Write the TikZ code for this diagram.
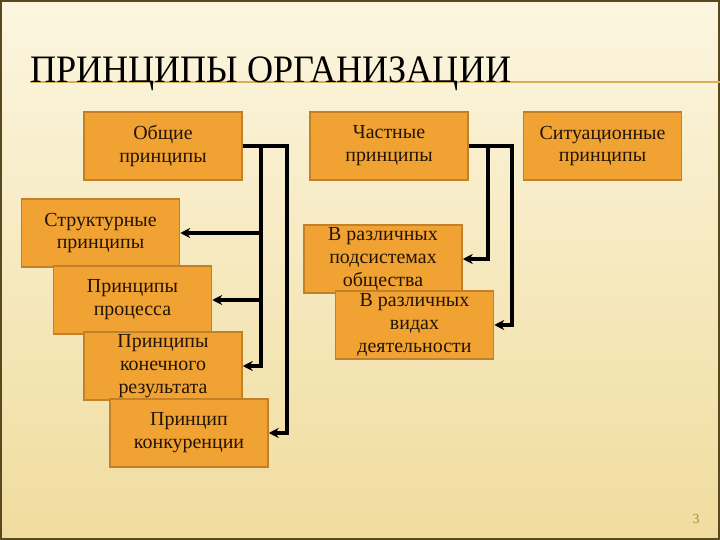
\documentclass[tikz,border=0pt]{standalone}
\usepackage{fontspec}
\setmainfont{Liberation Serif}
\usetikzlibrary{arrows.meta}

\definecolor{paperlight}{RGB}{252,246,224}
\definecolor{paperdark}{RGB}{240,220,158}
\definecolor{boxfill}{RGB}{240,162,50}
\definecolor{boxline}{RGB}{196,128,40}
\definecolor{boxtext}{RGB}{35,20,5}
\definecolor{goldline}{RGB}{214,176,88}
\definecolor{framecol}{RGB}{90,72,30}
\definecolor{numcol}{RGB}{176,136,48}

\tikzset{
  pbox/.style={rectangle, draw=boxline, line width=1.5bp, fill=boxfill,
    minimum width=158bp, minimum height=68bp, inner sep=0pt, align=center,
    text=boxtext, font=\fontsize{20}{23}\selectfont},
  link/.style={line width=3.3bp, -{Stealth[length=10bp,width=10bp]}}
}

\begin{document}
\begin{tikzpicture}[x=1bp,y=-1bp]
			% Background and frame
			\shade[top color=paperlight, bottom color=paperdark] (0,0) rectangle (720,540);
			\draw[line width=1.5bp, framecol] (1,1) rectangle (719,539);
			\useasboundingbox (0,0) rectangle (720,540);
			
			% Title
			\draw[goldline, line width=1.5bp] (30,82) -- (720,82);
			\node[anchor=base west, inner sep=0pt, font=\fontsize{39}{39}\selectfont] (title) at (30,83) {\scalebox{0.93}[1]{ПРИНЦИПЫ ОРГАНИЗАЦИИ}};
			
			% Top row
			\node[pbox] (obsh) at (163,146) {Общие\\принципы};
			\node[pbox] (chast) at (389,146) {Частные\\принципы};
			\node[pbox] (sit) at (602.5,146) {Ситуационные\\принципы};
			
			% Left column
			\node[pbox] (struct) at (100.5,233) {Структурные\\принципы};
			\node[pbox] (proc) at (132.5,300) {Принципы\\процесса};
			\node[pbox] (konech) at (163,366) {Принципы\\конечного\\результата};
			\node[pbox] (konk) at (189,433) {Принцип\\конкуренции};
			
			% Middle column
			\node[pbox] (podsist) at (383,259) {В различных\\подсистемах\\общества};
			\node[pbox] (vidy) at (414.5,325) {В различных\\видах\\деятельности};
			
			% Links from Obshie
			\coordinate (obshA) at (261,146);
			\coordinate (obshB) at (287,146);
			\draw[link] (obsh.east) -- (obshB) |- (konk.east);
			\draw[link] (obshA) |- (struct.east);
			\draw[link] (obshA) |- (proc.east);
			\draw[link] (obshA) |- (konech.east);
			
			% Links from Chastnye
			\coordinate (chastA) at (488,146);
			\coordinate (chastB) at (512,146);
			\draw[link] (chast.east) -- (chastB) |- (vidy.east);
			\draw[link] (chastA) |- (podsist.east);
			
			% Page number
			\node[text=numcol, font=\fontsize{14}{14}\selectfont] (pnum) at (696,519) {3};
		\end{tikzpicture}
\end{document}
